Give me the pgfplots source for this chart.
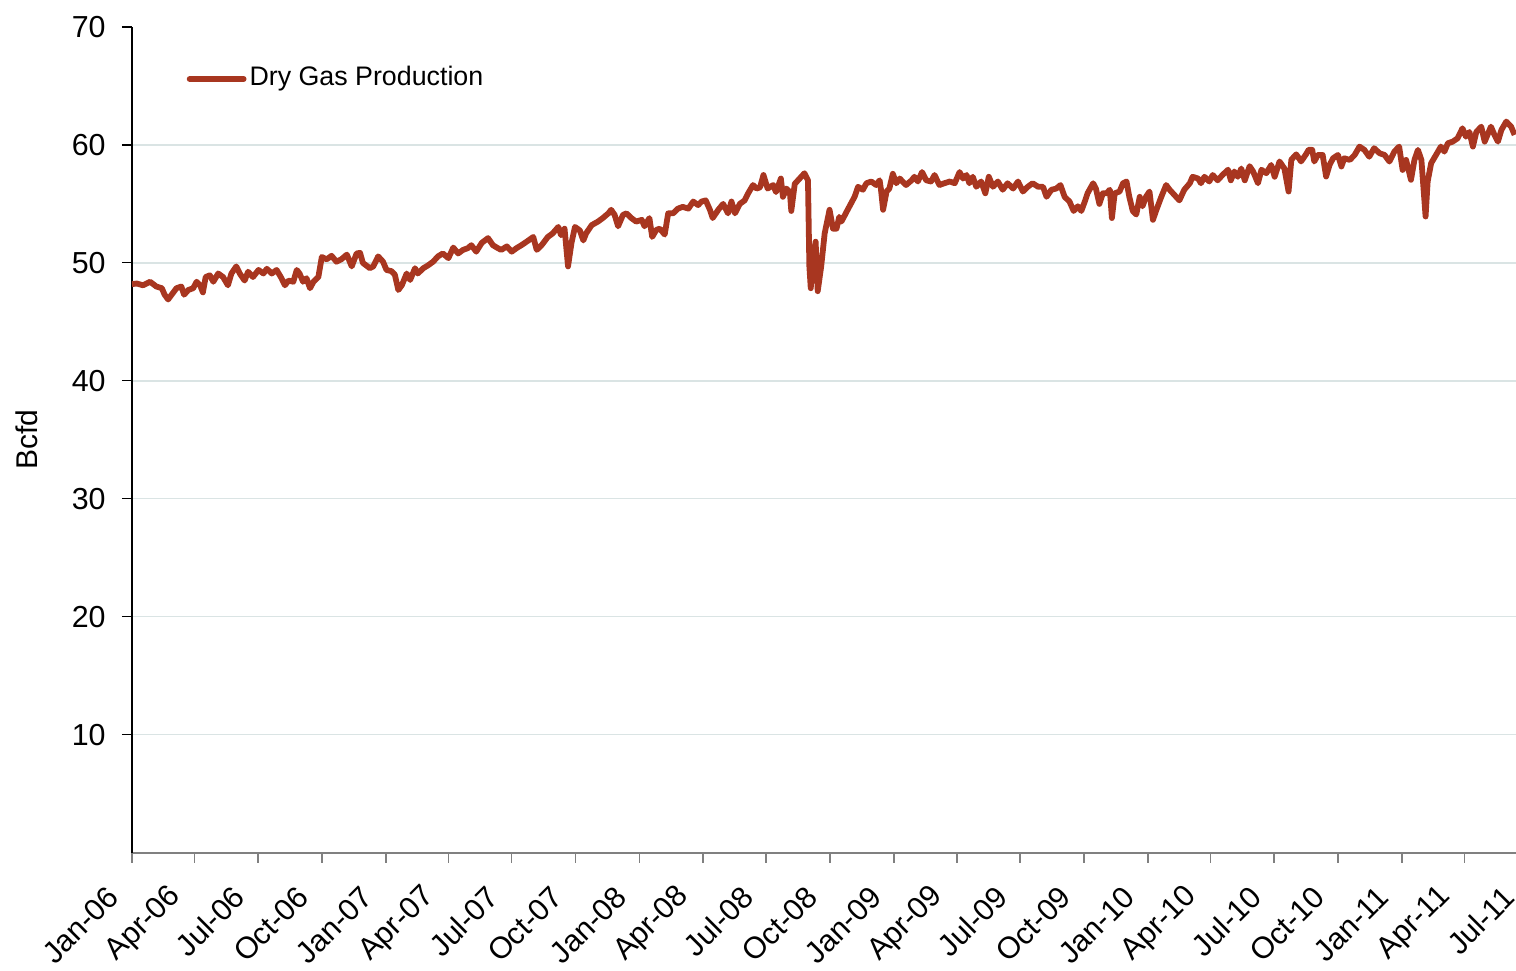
\documentclass[border=0pt]{standalone}
\usepackage{fontspec}
\setmainfont{Liberation Sans}
\usepackage{pgfplots}
\usepackage{pgfplotstable}
\pgfplotsset{compat=1.18}

\definecolor{gasred}{RGB}{168,54,32}
\definecolor{gridc}{RGB}{218,228,228}
\definecolor{axgray}{RGB}{128,128,128}

% day = days since 1 Jan 2006, bcfd = dry gas production
\pgfplotstableread{
day bcfd
0 48.2
7 48.25
16 48.1
26 48.4
35 48.0
43 47.85
47 47.3
52 46.9
57 47.3
64 47.85
71 48.0
75 47.3
81 47.7
88 47.85
93 48.4
98 48.1
102 47.5
106 48.8
112 48.95
117 48.4
124 49.1
131 48.8
138 48.1
143 49.1
150 49.7
155 49.1
162 48.5
167 49.25
174 48.8
182 49.4
189 49.1
194 49.5
201 49.1
208 49.4
215 48.7
220 48.1
225 48.5
232 48.4
237 49.4
241 49.1
246 48.4
251 48.7
256 47.85
261 48.4
268 48.8
273 50.5
280 50.3
287 50.6
294 50.1
301 50.3
309 50.7
316 49.7
323 50.8
328 50.85
332 50.0
342 49.55
347 49.7
354 50.55
361 50.1
366 49.4
373 49.3
378 49.0
383 47.7
388 48.1
395 49.1
400 48.55
407 49.55
411 49.1
419 49.55
426 49.8
433 50.1
440 50.55
447 50.8
455 50.4
462 51.3
469 50.8
476 51.1
483 51.25
488 51.5
495 50.95
503 51.7
512 52.1
519 51.5
526 51.25
531 51.1
539 51.4
546 50.95
553 51.25
560 51.5
570 51.9
577 52.2
582 51.1
589 51.5
598 52.2
605 52.5
613 53.05
617 52.35
622 52.9
627 49.7
632 51.7
637 53.05
644 52.75
649 51.9
653 52.5
661 53.2
670 53.5
677 53.8
685 54.2
689 54.5
694 54.07
699 53.1
706 54.07
711 54.2
718 53.8
725 53.5
733 53.65
737 53.1
744 53.8
748 52.2
754 52.8
759 52.9
766 52.4
771 54.2
778 54.2
785 54.6
792 54.75
800 54.6
807 55.2
814 54.9
819 55.2
825 55.3
831 54.5
835 53.8
843 54.5
850 55.0
857 54.2
862 55.2
867 54.2
874 55.0
881 55.3
886 55.9
893 56.6
898 56.3
903 56.4
908 57.45
914 56.3
922 56.6
926 56.0
933 57.15
936 55.6
941 56.3
946 56.0
948 54.4
953 56.7
960 57.15
967 57.6
972 57.0
974 49.7
976 47.85
979 50.3
983 51.8
986 47.6
991 49.7
996 52.5
1003 54.5
1008 52.9
1013 52.9
1017 53.9
1020 53.5
1025 54.05
1029 54.5
1034 55.05
1039 55.6
1044 56.45
1051 56.2
1056 56.75
1063 56.9
1070 56.6
1075 57.0
1077 56.2
1080 54.5
1085 56.05
1089 56.3
1094 57.55
1099 56.75
1104 57.15
1108 56.9
1113 56.6
1121 57.0
1125 57.3
1130 56.9
1136 57.7
1142 57.0
1149 56.9
1154 57.45
1161 56.6
1168 56.75
1176 56.9
1183 56.75
1190 57.7
1195 57.15
1200 57.45
1204 56.75
1209 57.3
1214 56.45
1221 56.9
1227 55.9
1232 57.3
1238 56.45
1245 56.9
1252 56.2
1259 56.75
1267 56.3
1274 56.9
1281 56.05
1288 56.45
1295 56.75
1303 56.45
1310 56.45
1315 55.6
1322 56.2
1329 56.3
1335 56.6
1341 55.6
1348 55.2
1354 54.4
1360 54.8
1365 54.4
1370 55.2
1374 55.9
1382 56.75
1386 56.3
1391 55.0
1396 55.9
1401 55.9
1406 56.2
1409 53.8
1413 55.9
1420 56.05
1425 56.75
1430 56.9
1434 55.6
1439 54.4
1444 54.1
1449 55.6
1453 54.8
1458 55.6
1463 56.05
1468 53.65
1473 54.5
1480 55.6
1487 56.6
1492 56.2
1499 55.75
1506 55.3
1513 56.2
1521 56.75
1525 57.3
1533 57.15
1537 56.75
1542 57.3
1549 56.9
1554 57.45
1561 57.0
1568 57.45
1576 57.9
1580 57.0
1585 57.75
1590 57.3
1595 58.0
1600 57.0
1607 58.2
1612 57.75
1619 56.75
1624 57.9
1631 57.6
1638 58.3
1643 57.3
1650 58.6
1657 58.0
1663 56.05
1667 58.75
1674 59.2
1681 58.6
1688 59.2
1692 59.6
1697 59.58
1700 58.59
1705 59.15
1712 59.15
1717 57.32
1722 58.31
1727 58.87
1734 59.15
1739 58.17
1743 58.87
1751 58.73
1758 59.15
1765 59.86
1772 59.58
1779 59.0
1786 59.72
1794 59.29
1801 59.15
1808 58.59
1815 59.43
1822 59.86
1827 57.88
1832 58.73
1839 57.04
1844 58.73
1849 59.58
1854 58.73
1857 56.33
1860 53.93
1863 56.9
1868 58.45
1875 59.15
1882 59.86
1887 59.43
1892 60.14
1899 60.28
1906 60.56
1913 61.41
1918 60.7
1923 61.1
1928 59.86
1933 61.1
1940 61.55
1945 60.28
1949 60.85
1954 61.55
1959 60.85
1964 60.28
1969 61.27
1976 61.98
1983 61.55
1988 60.85
}\gasdata

\begin{document}
\begin{tikzpicture}
\begin{axis}[
    scale only axis,
    width=349.1pt, height=206.5pt,
    xmin=0, xmax=2007,
    ymin=0, ymax=70,
    axis x line*=bottom,
    axis y line*=left,
    x axis line style={axgray, line width=0.55pt, -},
    y axis line style={black, line width=0.3pt, -},
    tick align=outside,
    major tick length=2.5pt,
    x tick style={axgray, line width=0.4pt},
    y tick style={black, line width=0.3pt},
    xtick={0,90,181,273,365,455,546,638,730,821,912,1004,1096,1186,1277,1369,1461,1551,1642,1734,1826,1916,2007},
    xticklabels={Jan-06,Apr-06,Jul-06,Oct-06,Jan-07,Apr-07,Jul-07,Oct-07,Jan-08,Apr-08,Jul-08,Oct-08,Jan-09,Apr-09,Jul-09,Oct-09,Jan-10,Apr-10,Jul-10,Oct-10,Jan-11,Apr-11,Jul-11},
    ytick={10,20,30,40,50,60},
    extra y ticks={70},
    extra y tick style={grid=none},
    ymajorgrids,
    grid style={gridc, line width=0.35pt},
    /pgf/number format/assume math mode=true,
    tick label style={font=\fontsize{7.6}{9}\selectfont},
    xticklabel style={xshift=-4.5pt, yshift=-7.2pt, rotate=45, anchor=east, inner sep=0pt},
    yticklabel style={anchor=east, inner sep=0pt, xshift=-3.9pt},
    ylabel={Bcfd},
    every axis y label/.style={at={(axis description cs:0,0.5)}, xshift=-26.25pt, rotate=90, anchor=center, font=\fontsize{7.5}{9}\selectfont},
    legend style={at={(axis description cs:0.0387,0.937)}, anchor=west, draw=none, fill=none,
        inner sep=0pt, column sep=0.75pt, nodes={inner sep=0pt}, font=\fontsize{6.7}{8}\selectfont},
    legend cell align=left,
    legend image code/.code={\draw[#1, line cap=round] (0pt,0pt) -- (13.5pt,0pt);},
]
\addplot[gasred, line width=1.45pt, line join=round] table[x=day, y=bcfd] {\gasdata};
\addlegendentry{Dry Gas Production}
\coordinate (bbR) at (axis cs:1990,0);
\end{axis}
\coordinate (bbSW) at ([xshift=-33pt, yshift=-29.5pt]current axis.south west);
\coordinate (bbNE) at ([yshift=6.75pt]bbR |- current axis.north east);
\pgfresetboundingbox
\path[use as bounding box] (bbSW) rectangle (bbNE);
\end{tikzpicture}
\end{document}
